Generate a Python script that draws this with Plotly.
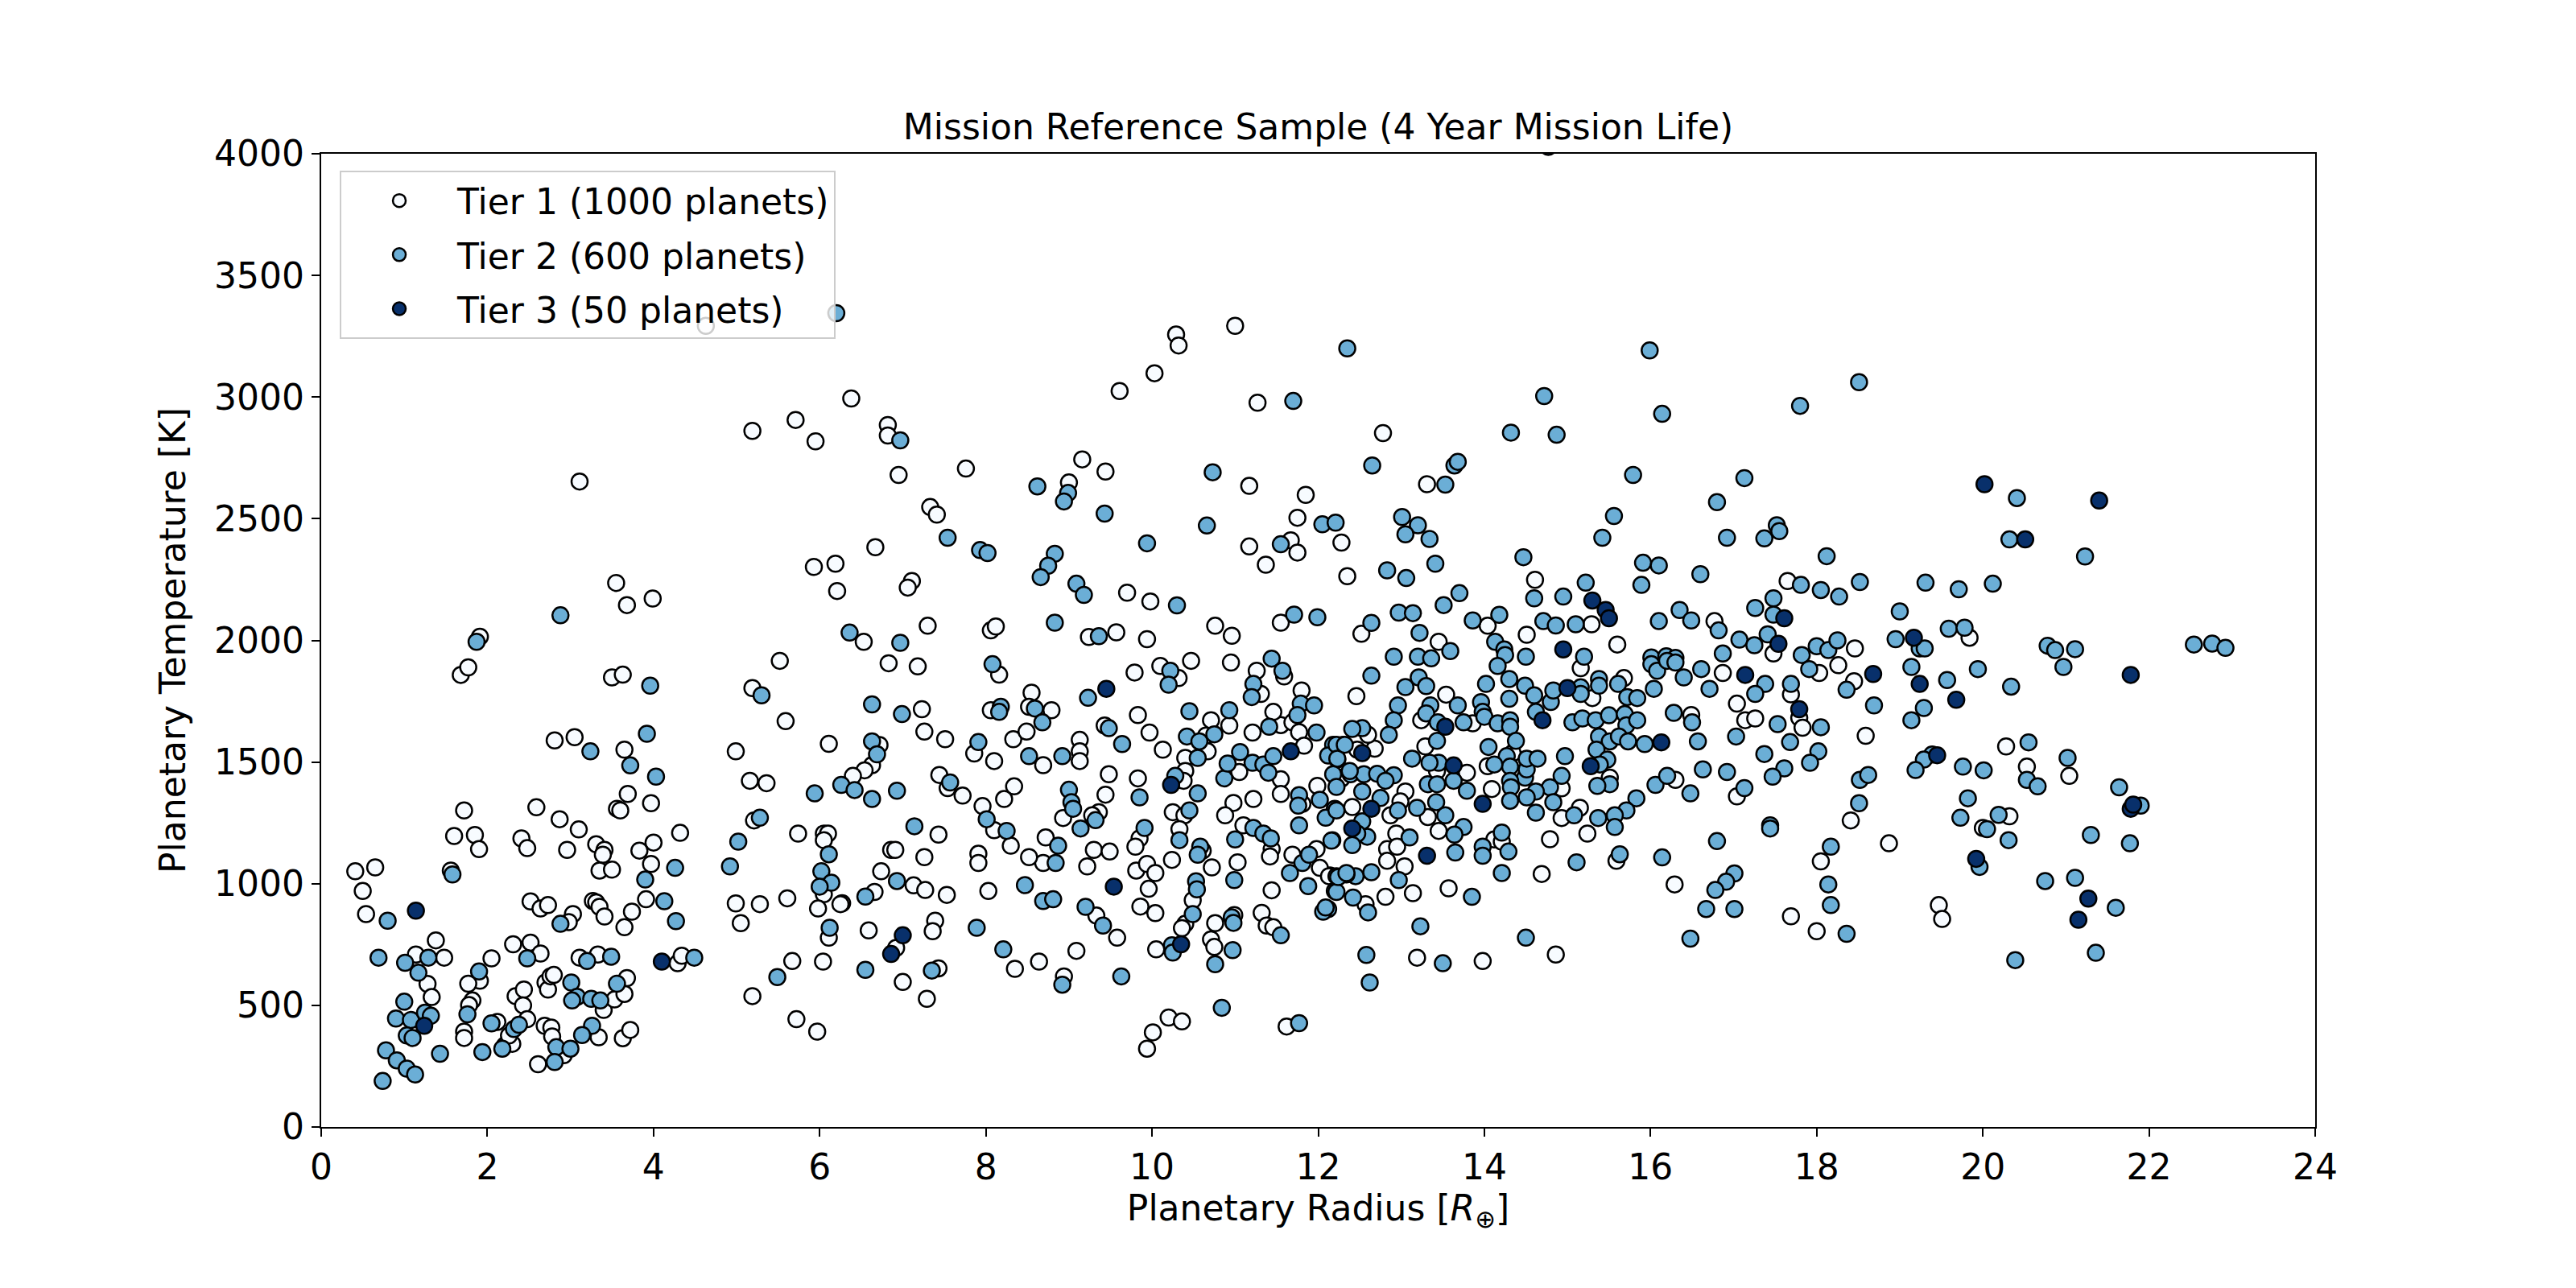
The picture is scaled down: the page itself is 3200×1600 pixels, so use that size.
import plotly.graph_objects as go

# Planetary radius [R_earth] / temperature [K], per tier
tier1_points = [
    (4.63, 3293), (5.19, 2861), (5.71, 2906), (5.95, 2818), (6.38, 2994), (3.11, 2653), (3.55, 2236),
    (3.68, 2145), (3.99, 2172), (1.91, 2015), (5.93, 2302), (6.19, 2315), (6.21, 2203),
    (10.29, 3257), (10.32, 3212), (11.0, 3293), (10.03, 3098), (9.61, 3025), (11.27, 2977), (6.82, 2885),
    (6.82, 2842), (6.95, 2680), (7.76, 2706), (9.0, 2649), (9.16, 2744), (9.44, 2694), (11.17, 2635),
    (11.85, 2598), (11.75, 2504), (12.28, 2402), (11.17, 2386), (11.67, 2411), (11.75, 2361), (11.37, 2311),
    (12.35, 2264), (7.33, 2548), (7.41, 2517), (6.67, 2383), (7.11, 2244), (7.06, 2217), (9.70, 2196),
    (9.98, 2160), (11.55, 2073), (10.76, 2060), (10.96, 2019), (6.53, 1994), (7.3, 2060), (8.06, 2041),
    (8.12, 2057), (9.24, 2014), (9.57, 2033), (9.94, 2005),
    (12.78, 2852), (13.31, 2642), (14.61, 2249), (17.65, 2244), (16.77, 2079), (17.48, 1946), (18.46, 1967),
    (15.6, 1983), (14.51, 2023), (15.29, 2066), (14.04, 2060), (12.52, 2027), (13.45, 1994), (19.84, 2011),
    (18.26, 1898), (18.45, 1832), (18.59, 1608), (20.28, 1564), (21.04, 1443), (20.53, 1481), (18.41, 1260),
    (18.87, 1166), (20.32, 1277), (20.0, 1229), (19.47, 912), (19.51, 855),
    (15.16, 1886), (12.46, 1771), (13.54, 1777), (13.24, 1672), (13.86, 1659), (15.3, 1763), (15.68, 1845),
    (15.51, 1436), (16.87, 1866), (17.04, 1740), (17.14, 1672), (17.26, 1679), (17.69, 1778), (17.79, 1682),
    (17.83, 1641), (18.03, 1866), (17.04, 1359), (16.49, 1693), (16.3, 1427), (18.05, 1092), (17.69, 866),
    (18.0, 805), (16.29, 997), (15.24, 1206), (15.15, 1312), (14.93, 1270), (14.93, 1392), (14.34, 1537),
    (14.09, 1389), (14.04, 1483), (13.79, 1456), (13.43, 1463), (13.29, 1564), (12.68, 1555), (12.6, 1612),
    (12.47, 1551), (12.26, 1436), (13.05, 1379), (12.99, 1338), (12.87, 1281), (12.41, 1315), (13.32, 1274),
    (13.45, 1217), (12.94, 1206), (12.83, 1142), (12.95, 1152), (12.83, 1094), (13.04, 1071), (12.14, 1034),
    (12.57, 916), (12.81, 946), (13.14, 961), (13.57, 981), (14.12, 1182), (14.21, 1173), (14.69, 1040),
    (14.79, 1183), (15.59, 1094), (13.19, 696), (13.98, 682), (14.86, 709),
    (6.83, 1906), (7.18, 1893), (8.16, 1859), (7.23, 1717), (7.26, 1625), (7.51, 1594), (6.72, 1570),
    (6.63, 1487), (6.54, 1466), (6.4, 1443), (7.44, 1447), (7.54, 1393), (7.72, 1362), (7.86, 1535),
    (8.1, 1504), (8.06, 1713), (8.33, 1594), (8.49, 1625), (8.69, 1487), (8.55, 1785), (8.52, 1727),
    (8.79, 1713), (7.96, 1319), (8.1, 1220), (8.3, 1156), (8.34, 1400), (8.22, 1348), (9.13, 1591),
    (9.13, 1544), (9.13, 1504), (8.93, 1270), (9.43, 1650), (9.48, 1450), (9.44, 1366), (9.36, 1294),
    (9.28, 1281), (8.72, 1190), (8.69, 1085), (8.52, 1109), (9.3, 1139), (9.49, 1132), (9.22, 1071),
    (9.83, 1693), (9.97, 1621), (10.1, 1895), (10.32, 1845), (10.47, 1916), (9.79, 1868), (10.65, 1609),
    (10.71, 1672), (10.67, 1544), (10.13, 1551), (10.4, 1517), (10.4, 1463), (10.38, 1423), (9.83, 1433),
    (10.25, 1294), (10.39, 1281), (10.33, 1224), (9.85, 1186), (9.8, 1152), (10.24, 1098), (9.81, 1054),
    (9.94, 1081), (10.04, 1044), (9.96, 979), (9.86, 906), (10.04, 879), (10.61, 1136), (10.72, 1067),
    (10.49, 932), (10.4, 835), (10.36, 817), (10.05, 730), (10.76, 838), (10.71, 771), (10.75, 740),
    (10.99, 871), (10.2, 450), (10.36, 434), (10.01, 389), (9.94, 322), (11.62, 413), (11.05, 1459),
    (10.93, 1650), (10.95, 1909), (10.98, 1332), (10.88, 1281), (11.1, 1240), (11.44, 1142), (11.42, 1112),
    (11.69, 1119), (11.98, 1142), (12.02, 1065), (11.03, 1088), (11.44, 973), (11.32, 880), (11.38, 828),
    (11.46, 821), (12.13, 1031), (11.22, 1348), (11.55, 1429), (11.55, 1369), (11.21, 1621), (11.55, 1652),
    (11.46, 1706), (11.26, 1875), (11.31, 1780), (11.59, 1852), (11.8, 1794), (11.69, 1663), (11.77, 1623),
    (11.83, 1567), (11.81, 1328), (11.99, 1402), (12.28, 1432), (6.27, 920), (6.66, 966), (6.74, 1051),
    (6.86, 1139), (6.91, 1139), (7.13, 993), (7.27, 974), (7.53, 954), (7.43, 1202), (7.26, 1109),
    (6.59, 808), (6.92, 736), (7.39, 848), (7.36, 805), (7.43, 652), (7.0, 596), (7.29, 527), (7.91, 1123),
    (7.91, 1085), (8.03, 970), (8.35, 650), (8.64, 680), (9.09, 724), (8.94, 619), (9.33, 869), (9.58, 778),
    (1.68, 1858), (1.77, 1889), (3.5, 1848), (3.63, 1859), (5.52, 1916), (5.19, 1804), (5.59, 1668),
    (4.99, 1544), (6.11, 1575), (5.16, 1423), (5.36, 1413), (5.21, 1260), (5.74, 1206), (4.99, 919),
    (5.05, 838), (5.28, 916), (5.61, 940), (6.05, 1206), (6.1, 1206), (6.05, 1179), (6.05, 957), (5.98, 898),
    (6.25, 916), (6.11, 778), (6.04, 680), (5.67, 682), (5.19, 538), (5.72, 443), (5.97, 392), (0.41, 1051),
    (0.65, 1067), (0.5, 970), (0.54, 875), (1.14, 709), (1.38, 767), (1.48, 696), (1.28, 588), (1.33, 534),
    (1.56, 1054), (1.72, 1301), (1.6, 1196), (1.85, 1200), (1.9, 1142), (2.59, 1314), (2.87, 1265),
    (3.1, 1223), (2.96, 1139), (2.41, 1186), (2.48, 1146), (2.81, 1589), (3.05, 1602), (3.65, 1551),
    (3.69, 1369), (3.56, 1308), (3.6, 1301), (3.97, 1331), (4.32, 1209), (4.0, 1169), (3.83, 1136),
    (3.97, 1081), (3.31, 1162), (3.41, 1139), (3.39, 1119), (3.35, 1054), (3.5, 1058), (3.91, 936),
    (3.65, 821), (3.74, 885), (3.27, 929), (3.31, 923), (3.35, 905), (3.41, 865), (2.52, 927), (2.64, 898),
    (2.73, 912), (3.03, 875), (2.98, 842), (4.29, 673), (4.34, 704), (2.05, 693), (2.31, 751), (2.52, 758),
    (2.64, 713), (1.91, 601), (1.77, 589), (1.82, 520), (1.78, 501), (1.72, 392), (1.72, 366), (2.12, 432),
    (2.21, 335), (2.3, 342), (2.26, 376), (2.34, 538), (2.44, 565), (2.43, 500), (2.48, 443), (2.61, 258),
    (2.7, 594), (2.73, 565), (2.76, 619), (2.8, 625), (2.69, 416), (2.77, 409), (2.78, 372), (2.92, 295),
    (3.11, 696), (3.33, 709), (3.4, 481), (3.53, 524), (3.68, 612), (3.65, 547), (3.34, 369), (3.63, 365),
    (3.72, 399),
]

tier2_points = [
    (6.2, 3345), (2.88, 2103), (1.87, 1994), (6.36, 2032), (12.35, 3200), (11.70, 2984), (6.97, 2822),
    (8.62, 2633), (8.99, 2606), (8.94, 2571), (9.43, 2521), (10.73, 2691), (10.66, 2472), (12.05, 2477),
    (12.21, 2484), (11.55, 2395), (7.54, 2422), (7.93, 2371), (8.02, 2359), (8.83, 2356), (8.75, 2307),
    (8.66, 2260), (9.09, 2233), (9.18, 2187), (9.94, 2399), (10.30, 2144), (11.99, 2095), (11.71, 2106),
    (6.97, 1990), (8.83, 2073), (9.36, 2017),
    (15.99, 3192), (18.51, 3061), (14.72, 3004), (16.14, 2931), (17.80, 2964), (14.32, 2854), (14.87, 2845),
    (12.65, 2719), (13.64, 2719), (13.68, 2734), (13.53, 2640), (15.79, 2680), (17.13, 2667), (16.80, 2568),
    (15.56, 2511), (15.42, 2422), (16.92, 2422), (17.52, 2473), (17.55, 2449), (17.37, 2419), (18.12, 2346),
    (13.01, 2507), (13.2, 2473), (13.05, 2436), (13.34, 2417), (14.47, 2342), (13.41, 2315), (12.83, 2288),
    (13.06, 2256), (14.6, 2173), (14.95, 2180), (15.22, 2237), (15.91, 2319), (16.1, 2308), (15.89, 2228),
    (16.6, 2272), (17.81, 2228), (18.05, 2207), (18.27, 2180), (18.52, 2240), (17.48, 2173), (17.26, 2133),
    (17.48, 2106), (16.35, 2125), (16.49, 2082), (16.1, 2079), (16.82, 2041), (17.07, 2003), (17.25, 1980),
    (17.41, 2025), (16.87, 1946), (17.82, 1940), (18.0, 1976), (18.14, 1960), (18.25, 2000), (15.2, 1933),
    (14.5, 1933), (14.71, 2079), (14.86, 2061), (15.1, 2066), (13.86, 2082), (14.18, 2105), (14.13, 1994),
    (14.24, 1963), (14.25, 1940), (13.51, 2145), (13.7, 2194), (12.97, 2114), (13.14, 2112), (12.64, 2072),
    (13.22, 2031), (13.59, 1956), (12.91, 1933), (13.2, 1933), (13.36, 1926), (16.01, 1930), (16.19, 1935),
    (16.3, 1928),
    (20.41, 2585), (20.32, 2415), (21.23, 2345), (19.31, 2237), (19.71, 2210), (20.12, 2233), (19.0, 2119),
    (19.59, 2048), (19.78, 2052), (18.95, 2005), (19.24, 1967), (19.3, 1967), (20.78, 1978), (20.87, 1960),
    (21.11, 1964), (22.54, 1983), (22.76, 1987), (22.92, 1969),
    (20.97, 1891), (18.36, 1797), (19.14, 1891), (19.57, 1837), (19.94, 1882), (20.34, 1810), (18.69, 1733),
    (19.29, 1722), (19.14, 1672), (20.55, 1581), (21.02, 1517), (20.53, 1427), (20.66, 1400), (19.39, 1531),
    (19.29, 1510), (19.19, 1467), (19.76, 1481), (20.01, 1466), (18.52, 1427), (18.62, 1447), (18.51, 1331),
    (19.82, 1351), (19.73, 1271), (20.19, 1283), (20.05, 1224), (20.31, 1179), (21.64, 1396), (21.9, 1321),
    (21.3, 1200), (21.77, 1166), (19.96, 1069), (20.75, 1011), (21.11, 1024), (21.6, 901), (18.36, 794),
    (20.39, 686), (21.36, 716),
    (14.16, 1895), (12.64, 1855), (13.05, 1808), (13.21, 1848), (13.3, 1812), (13.68, 1733), (12.96, 1733),
    (12.91, 1672), (13.35, 1733), (13.3, 1700), (13.44, 1663), (13.75, 1663), (13.96, 1746), (13.98, 1706),
    (14.0, 1686), (14.02, 1821), (14.16, 1659), (14.3, 1760), (14.3, 1841), (14.31, 1672), (14.31, 1645),
    (14.49, 1814), (14.6, 1774), (14.62, 1706), (14.8, 1747), (14.83, 1794), (15.16, 1807), (15.16, 1780),
    (15.38, 1841), (15.38, 1814), (15.61, 1821), (15.72, 1767), (15.84, 1763), (15.06, 1663), (15.18, 1679),
    (15.34, 1672), (15.5, 1692), (15.69, 1697), (15.71, 1651), (15.84, 1672), (15.38, 1605), (15.51, 1585),
    (15.62, 1605), (15.73, 1585), (15.35, 1551), (15.48, 1510), (15.39, 1490), (15.51, 1409), (15.36, 1402),
    (15.93, 1574), (16.04, 1801), (16.01, 1902), (16.08, 1875), (16.2, 1916), (16.3, 1909), (16.4, 1848),
    (16.61, 1882), (16.71, 1801), (17.38, 1821), (17.26, 1780), (17.03, 1605), (17.53, 1656), (17.69, 1821),
    (18.05, 1643), (17.91, 1882), (17.68, 1582), (18.02, 1544), (17.92, 1497), (17.61, 1474), (17.47, 1440),
    (17.37, 1533), (16.92, 1459), (17.13, 1393), (16.63, 1470), (16.48, 1371), (16.57, 1585), (16.28, 1702),
    (16.5, 1663), (16.06, 1406), (16.2, 1443), (17.44, 1240), (17.44, 1227), (18.17, 1152), (18.14, 997),
    (18.17, 912), (16.8, 1175), (17.01, 1042), (16.91, 1008), (16.78, 974), (16.67, 896), (17.01, 896),
    (16.48, 774), (16.14, 1108), (15.83, 1351), (15.71, 1301), (15.57, 1281), (15.57, 1233), (15.37, 1270),
    (15.08, 1281), (14.93, 1443), (14.97, 1524), (14.79, 1396), (14.83, 1335), (14.62, 1292), (14.62, 1379),
    (14.51, 1355), (14.49, 1436), (14.51, 1470), (14.51, 1514), (14.64, 1514), (14.38, 1587), (14.27, 1524),
    (14.31, 1481), (14.31, 1423), (14.32, 1396), (14.31, 1341), (14.12, 1490), (14.05, 1562), (13.79, 1382),
    (13.63, 1423), (13.45, 1497), (13.34, 1497), (13.32, 1409), (13.43, 1409), (13.43, 1587), (13.13, 1514),
    (12.85, 1612), (12.53, 1639), (12.41, 1636), (12.3, 1571), (12.18, 1571), (12.23, 1510), (12.39, 1450),
    (12.55, 1450), (12.71, 1452), (12.91, 1446), (12.81, 1423), (12.53, 1379), (12.75, 1352), (12.96, 1301),
    (12.2, 1308), (13.19, 1312), (13.42, 1335), (13.53, 1281), (13.75, 1233), (13.64, 1202), (13.1, 1190),
    (12.53, 1256), (12.59, 1193), (12.47, 1206), (12.17, 1179), (12.41, 1159), (12.97, 1015), (12.64, 1047),
    (12.45, 1031), (12.34, 1038), (12.22, 1031), (12.2, 970), (12.12, 896), (12.42, 943), (12.6, 882),
    (13.65, 1128), (13.85, 946), (13.98, 1152), (13.98, 1115), (14.21, 1210), (14.29, 1132), (14.21, 1044),
    (15.11, 1088), (15.63, 1121), (13.23, 825), (12.58, 707), (12.62, 594), (13.5, 673), (14.5, 778),
    (8.08, 1902), (6.63, 1737), (6.99, 1697), (6.63, 1585), (6.69, 1532), (6.26, 1406), (6.42, 1385),
    (6.63, 1348), (6.93, 1382), (7.57, 1416), (7.91, 1582), (8.18, 1727), (8.16, 1706), (8.52, 1524),
    (8.59, 1720), (8.68, 1663), (8.01, 1265), (8.25, 1217), (8.92, 1524), (9.0, 1386), (9.03, 1335),
    (9.05, 1308), (9.14, 1227), (9.23, 1764), (9.48, 1639), (9.64, 1574), (9.32, 1261), (8.87, 1156),
    (8.84, 1085), (10.22, 1875), (10.2, 1818), (10.45, 1709), (10.42, 1605), (10.57, 1585), (10.75, 1614),
    (10.55, 1517), (10.28, 1443), (9.85, 1355), (10.55, 1371), (10.45, 1301), (10.33, 1179), (9.91, 1229),
    (10.58, 1152), (10.55, 1119), (10.53, 1010), (10.54, 977), (10.49, 875), (10.24, 747), (10.25, 717),
    (10.76, 669), (10.96, 862), (10.98, 839), (10.97, 727), (10.84, 490), (11.77, 427), (10.87, 1433),
    (10.91, 1494), (11.06, 1541), (10.93, 1713), (11.22, 1229), (11.34, 1206), (11.43, 1186), (11.0, 1182),
    (11.81, 1085), (11.89, 1119), (10.99, 1015), (11.66, 1044), (11.88, 990), (11.55, 788), (12.06, 885),
    (12.09, 902), (12.22, 966), (12.24, 1027), (12.34, 1044), (11.21, 1497), (11.34, 1490), (11.4, 1456),
    (11.46, 1524), (11.41, 1645), (11.22, 1821), (11.2, 1767), (11.44, 1925), (11.57, 1875), (11.79, 1740),
    (11.95, 1733), (11.75, 1693), (11.98, 1621), (11.77, 1364), (11.76, 1321), (11.77, 1240), (12.02, 1345),
    (12.09, 1271), (12.22, 1301), (12.16, 1177), (12.12, 1527), (12.22, 1571), (12.23, 1514), (12.32, 1571),
    (12.18, 1450), (12.22, 1398), (12.38, 1463), (6.55, 947), (6.93, 1011), (7.14, 1236), (6.55, 646),
    (7.35, 643), (7.89, 819), (8.21, 730), (8.47, 994), (8.69, 929), (8.81, 936), (8.92, 585), (9.2, 905),
    (9.41, 828), (9.63, 619),
    (3.96, 1814), (5.3, 1774), (5.94, 1371), (5.28, 1271), (5.02, 1173), (4.92, 1071), (6.11, 1121),
    (6.02, 1051), (6.14, 1004), (6.0, 988), (6.12, 819), (5.49, 616), (0.8, 848), (0.69, 696), (1.01, 675),
    (1.29, 696), (1.17, 634), (1.0, 515), (0.9, 446), (1.08, 440), (1.25, 470), (1.32, 457), (1.03, 376),
    (1.1, 366), (0.78, 315), (0.91, 274), (1.03, 240), (1.13, 216), (0.74, 189), (1.43, 301), (1.58, 1038),
    (3.24, 1544), (3.72, 1486), (3.92, 1616), (4.03, 1440), (4.26, 1065), (3.9, 1017), (4.13, 928),
    (4.27, 846), (2.88, 835), (4.49, 696), (2.48, 693), (1.9, 639), (1.76, 463), (1.94, 308), (2.05, 426),
    (2.18, 322), (2.32, 403), (2.38, 420), (2.83, 328), (2.81, 267), (3.0, 322), (3.01, 594), (3.08, 535),
    (3.02, 520), (3.2, 682), (3.49, 700), (3.25, 527), (3.36, 520), (3.56, 589), (3.26, 416), (3.14, 378),
]

tier3_points = [
    (14.77, 4028), (15.3, 2164), (15.46, 2125), (15.5, 2091), (17.61, 2091), (17.54, 1986), (14.95, 1963),
    (20.02, 2642), (21.4, 2575), (20.51, 2415), (19.17, 2011), (21.78, 1858), (18.68, 1862), (19.24, 1821),
    (19.68, 1756), (19.45, 1528), (21.78, 1308), (21.81, 1325), (19.92, 1102), (21.27, 939), (21.15, 852),
    (13.53, 1645), (14.7, 1672), (15.0, 1804), (15.28, 1483), (16.13, 1581), (17.14, 1858), (17.79, 1717),
    (13.63, 1486), (12.53, 1537), (12.64, 1308), (12.41, 1227), (13.31, 1115), (13.98, 1328),
    (9.45, 1801), (10.23, 1406), (11.67, 1544), (10.35, 751), (9.54, 988), (7.0, 788), (6.86, 711),
    (1.14, 889), (1.24, 416), (4.1, 680),
]

tier_names = ["Tier 1 (1000 planets)", "Tier 2 (600 planets)", "Tier 3 (50 planets)"]
tier_colors = ["#f7fbff", "#6baed6", "#08306b"]

x_ticks = list(range(0, 25, 2))
y_ticks = list(range(0, 4001, 500))

FONT = "DejaVu Sans"

fig = go.Figure()
for points, name, color in zip([tier1_points, tier2_points, tier3_points], tier_names, tier_colors):
    radius = [p[0] for p in points]
    temp = [p[1] for p in points]
    fig.add_trace(go.Scatter(
        x=radius, y=temp, mode="markers", name=name, legendgroup=name,
        marker=dict(size=20, color=color, line=dict(color="black", width=2.5)),
    ))

axis_style = dict(
    showline=True, linecolor="black", linewidth=2.2, mirror=True,
    ticks="outside", ticklen=10, tickwidth=2.2, tickcolor="black",
    showgrid=False, zeroline=False,
    tickfont=dict(family=FONT, size=44, color="black"),
)

# the page body adds an 8 px offset, margins are shifted to compensate
fig.update_layout(
    width=3200, height=1600, autosize=False,
    margin=dict(l=391, r=332, t=183, b=208),
    paper_bgcolor="white", plot_bgcolor="white",
    font=dict(family=FONT, size=44, color="black"),
    title=dict(
        text="Mission Reference Sample (4 Year Mission Life)",
        x=0.5, xref="paper", xanchor="center",
        y=1.0, yref="paper", yanchor="bottom", pad=dict(b=18),
        font=dict(family=FONT, size=44, color="black"),
    ),
    xaxis=dict(
        range=[0, 24], tickvals=x_ticks,
        title=dict(text="Planetary Radius [<i>R</i><sub>⊕</sub>]", standoff=4,
                   font=dict(family=FONT, size=44, color="black")),
        **axis_style,
    ),
    yaxis=dict(
        range=[0, 4000], tickvals=y_ticks,
        title=dict(text="Planetary Temperature [K]", standoff=22,
                   font=dict(family=FONT, size=44, color="black")),
        **axis_style,
    ),
    legend=dict(
        x=0.0093, y=0.9826, xanchor="left", yanchor="top",
        bgcolor="rgba(255,255,255,0.8)", bordercolor="#cccccc", borderwidth=2,
        font=dict(family=FONT, size=44, color="black"),
        itemwidth=134, tracegroupgap=7,
    ),
)

fig.write_html("out.html")
